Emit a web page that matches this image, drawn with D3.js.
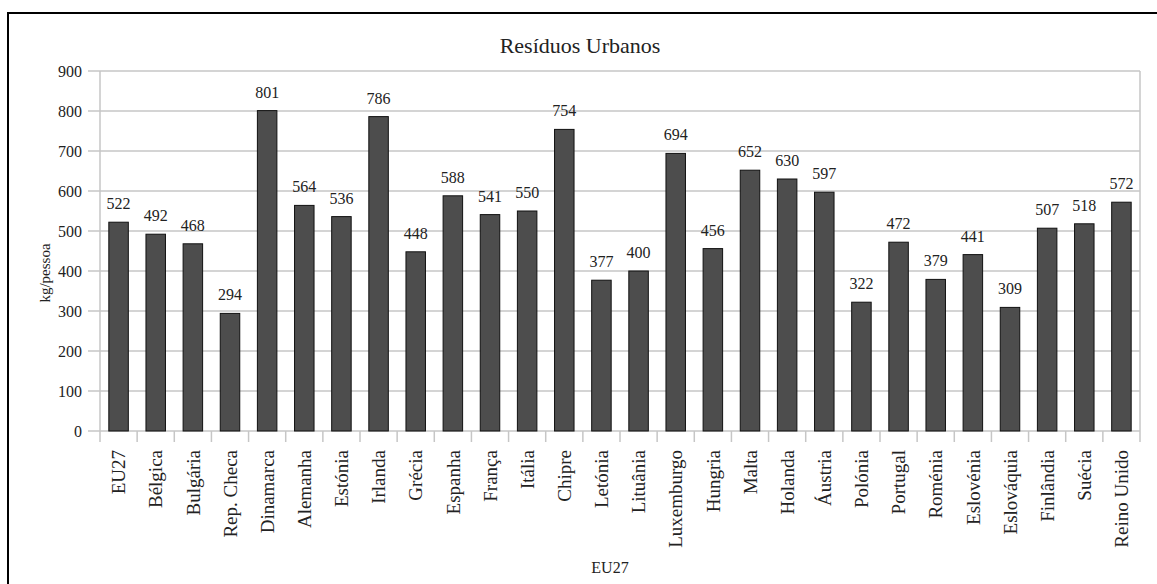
<!DOCTYPE html>
<html>
<head>
<meta charset="utf-8">
<script src="https://cdn.jsdelivr.net/npm/d3@7"></script>
<style>
  body { margin: 0; background: #fff; }
</style>
</head>
<body>
<div id="chart"></div>
<script>
// categories and values
var paises = ["EU27", "Bélgica", "Bulgária", "Rep. Checa", "Dinamarca", "Alemanha", "Estónia", "Irlanda",
  "Grécia", "Espanha", "França", "Itália", "Chipre", "Letónia", "Lituânia", "Luxemburgo", "Hungria",
  "Malta", "Holanda", "Áustria", "Polónia", "Portugal", "Roménia", "Eslovénia", "Eslováquia",
  "Finlândia", "Suécia", "Reino Unido"];
var residuos = [522, 492, 468, 294, 801, 564, 536, 786, 448, 588, 541, 550, 754, 377, 400, 694, 456,
  652, 630, 597, 322, 472, 379, 441, 309, 507, 518, 572];
var yTicks = [0, 100, 200, 300, 400, 500, 600, 700, 800, 900];

var data = paises.map(function(p, i) { return { pais: p, valor: residuos[i] }; });

var W = 1157, H = 584;
var plotL = 100, plotR = 1140, plotT = 71, plotB = 431;
var serif = "'Liberation Serif', 'Times New Roman', 'DejaVu Serif', serif";

var svg = d3.select("#chart").append("svg")
    .attr("width", W).attr("height", H)
    .attr("font-family", serif);

// outer frame (continues off the picture on the right and bottom)
svg.append("rect")
    .attr("x", 8).attr("y", 13)
    .attr("width", W + 20).attr("height", H + 20)
    .attr("fill", "none").attr("stroke", "#000").attr("stroke-width", 2);

var x = d3.scaleBand().domain(paises).range([plotL, plotR]).paddingInner(0.475).paddingOuter(0.2375);
var xTickScale = d3.scaleBand().domain(paises).range([plotL, plotR]); // for tick separators
var y = d3.scaleLinear().domain([0, 900]).range([plotB, plotT]);

// gridlines
svg.append("g").selectAll("line")
    .data(yTicks)
    .enter().append("line")
    .attr("x1", plotL - 12).attr("x2", plotR)
    .attr("y1", function(d) { return y(d); })
    .attr("y2", function(d) { return y(d); })
    .attr("stroke", "#c6c6c6").attr("stroke-width", 1.5);

// y axis line and right edge
svg.append("line").attr("x1", plotL).attr("x2", plotL).attr("y1", plotT).attr("y2", plotB)
    .attr("stroke", "#c6c6c6").attr("stroke-width", 1.5);
svg.append("line").attr("x1", plotR).attr("x2", plotR).attr("y1", plotT).attr("y2", plotB + 11)
    .attr("stroke", "#c6c6c6").attr("stroke-width", 1.5);

// x tick separators
svg.append("g").selectAll("line")
    .data(paises)
    .enter().append("line")
    .attr("x1", function(d) { return xTickScale(d); })
    .attr("x2", function(d) { return xTickScale(d); })
    .attr("y1", plotB).attr("y2", plotB + 11)
    .attr("stroke", "#c6c6c6").attr("stroke-width", 1.5);

// y tick labels
svg.append("g").selectAll("text")
    .data(yTicks)
    .enter().append("text")
    .attr("x", plotL - 18)
    .attr("y", function(d) { return y(d); })
    .attr("dy", "0.35em")
    .attr("text-anchor", "end")
    .attr("font-family", serif).attr("font-size", 16).attr("fill", "#222")
    .text(function(d) { return d; });

// bars
svg.append("g").selectAll("rect")
    .data(data)
    .enter().append("rect")
    .attr("x", function(d) { return x(d.pais); })
    .attr("y", function(d) { return y(d.valor); })
    .attr("width", x.bandwidth())
    .attr("height", function(d) { return y(0) - y(d.valor); })
    .attr("fill", "#4d4d4d")
    .attr("stroke", "#111").attr("stroke-width", 1);

// value labels
svg.append("g").selectAll("text")
    .data(data)
    .enter().append("text")
    .attr("x", function(d) { return x(d.pais) + x.bandwidth() / 2; })
    .attr("y", function(d) { return y(d.valor) - 13; })
    .attr("text-anchor", "middle")
    .attr("font-family", serif).attr("font-size", 16).attr("fill", "#222")
    .text(function(d) { return d.valor; });

// category labels
svg.append("g").selectAll("text")
    .data(paises)
    .enter().append("text")
    .attr("transform", function(d) {
      return "translate(" + (x(d) + x.bandwidth() / 2) + "," + (plotB + 19) + ") rotate(-90)";
    })
    .attr("dy", "0.35em")
    .attr("text-anchor", "end")
    .attr("font-family", serif).attr("font-size", 19).attr("fill", "#222")
    .text(function(d) { return d; });

// title
svg.append("text")
    .attr("x", 580).attr("y", 53)
    .attr("text-anchor", "middle")
    .attr("font-family", serif).attr("font-size", 22).attr("fill", "#222")
    .text("Resíduos Urbanos");

// y axis title
svg.append("text")
    .attr("transform", "translate(50,273) rotate(-90)")
    .attr("text-anchor", "middle")
    .attr("font-family", serif).attr("font-size", 15).attr("fill", "#222")
    .text("kg/pessoa");

// x axis title
svg.append("text")
    .attr("x", 610).attr("y", 573)
    .attr("text-anchor", "middle")
    .attr("font-family", serif).attr("font-size", 16).attr("fill", "#222")
    .text("EU27");
</script>
</body>
</html>
